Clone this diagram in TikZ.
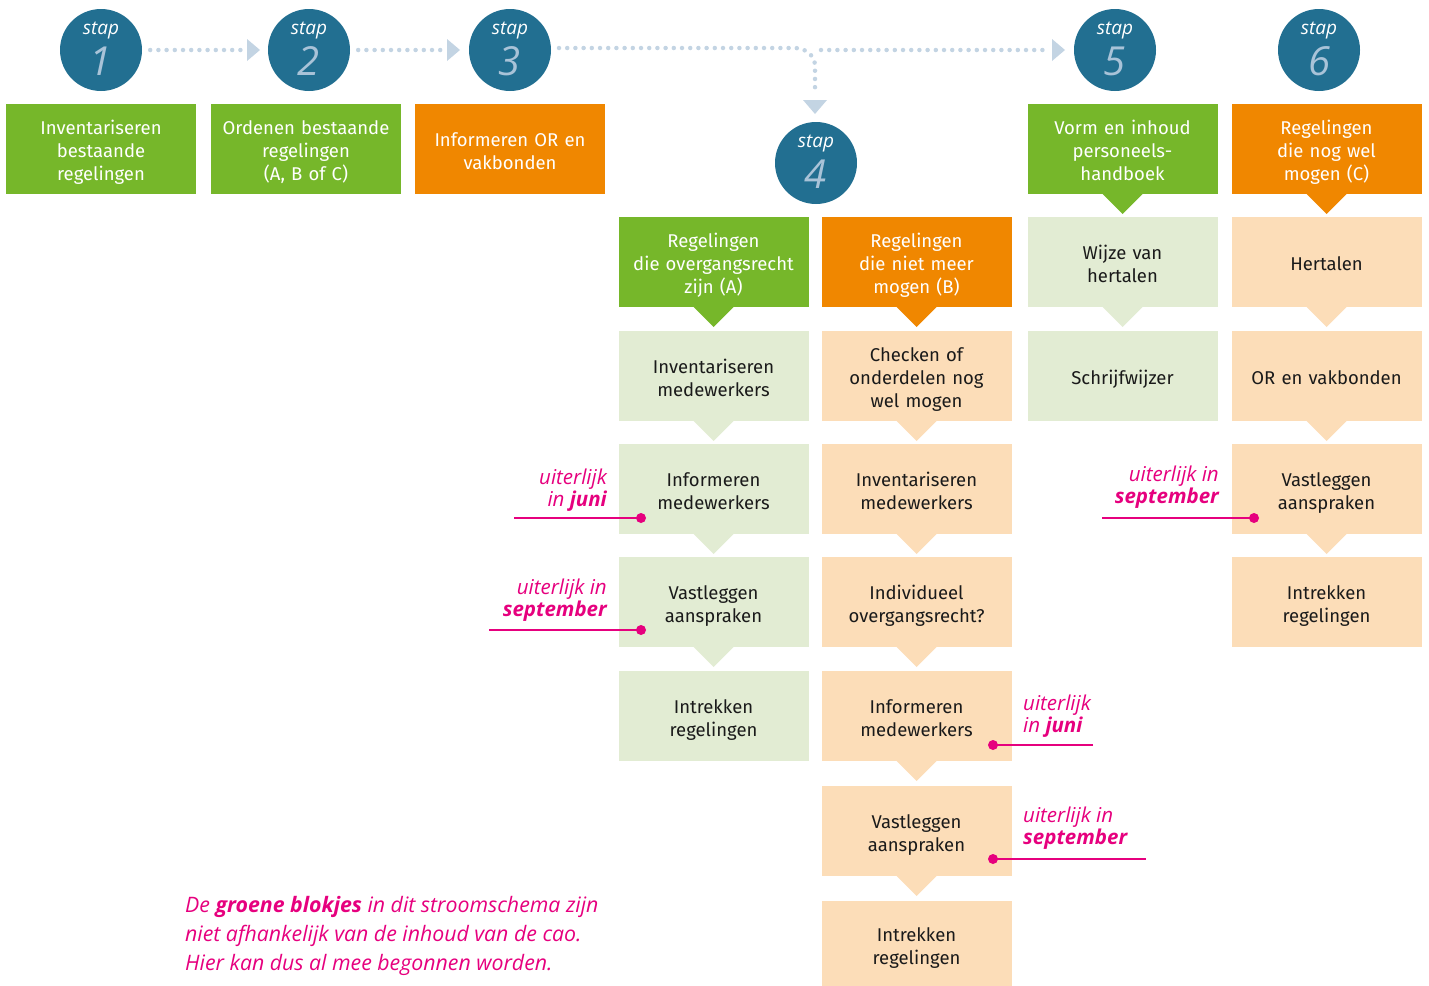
\documentclass[tikz,border=0pt]{standalone}
\usepackage{fontspec}
\setmainfont{Fira Sans}
\newfontfamily\hand{Open Sans}
\usetikzlibrary{calc}
\definecolor{cgreen}{HTML}{76B72A}
\definecolor{corange}{HTML}{F08700}
\definecolor{clgreen}{HTML}{E2ECD3}
\definecolor{clorange}{HTML}{FCDDB8}
\definecolor{cblue}{HTML}{226F91}
\definecolor{cnum}{HTML}{A9C3D8}
\definecolor{cdot}{HTML}{C3D4E3}
\definecolor{cpink}{HTML}{E6007E}
\definecolor{ctext}{HTML}{1A1A1A}
\begin{document}
\begin{tikzpicture}[x=1pt,y=-1pt,
  box/.style={minimum width=190pt, minimum height=90pt, inner sep=0pt, outer sep=0pt,
    align=center, text width=186pt, font=\fontsize{18.5}{23}\selectfont,
    execute at begin node={\rule{0pt}{26pt}},
    execute at end node={\rule[-9pt]{0pt}{0pt}}},
  gbox/.style={box, fill=cgreen, text=white},
  obox/.style={box, fill=corange, text=white},
  lgbox/.style={box, fill=clgreen, text=ctext},
  lobox/.style={box, fill=clorange, text=ctext},
  stepc/.style={circle, fill=cblue, minimum size=82pt, inner sep=0pt},
  staptxt/.style={font=\hand\itshape\fontsize{19}{19}\selectfont, text=white, inner sep=0pt},
  stepnum/.style={font=\hand\itshape\fontsize{40}{40}\selectfont, text=cnum, inner sep=0pt},
  dots/.style={draw=cdot, line width=4.5pt, line cap=round, dash pattern=on 0pt off 8.2pt},
  annot/.style={font=\hand\itshape\fontsize{20.5}{22.5}\selectfont, text=cpink, inner sep=0pt},
  pline/.style={draw=cpink, line width=1.3pt},
]
\useasboundingbox (0,0) rectangle (1429,985);

% ---------- step circles ----------
\foreach \n/\x/\y in {1/101/50, 2/309/50, 3/510/50, 4/816/163, 5/1115/50, 6/1319/50}{
  \node[stepc] (s\n) at (\x,\y) {};
  \node[staptxt] (s\n t) at (\x,\y-19) {stap};
  \node[stepnum] (s\n n) at (\x,\y+11) {\n};
}

% ---------- dotted arrows ----------
\coordinate (a12) at (247,50);
\coordinate (a23) at (447,50);
\coordinate (a35) at (1052,50);
\coordinate (a34) at (815,100);
\draw[dots] ([xshift=8pt]s1.east) -- ([xshift=-6pt]a12);
\draw[dots] ([xshift=8pt]s2.east) -- ([xshift=-6pt]a23);
\draw[dots] (559,48) -- (795,48) to[out=0,in=90] (815,66) -- (815,92);
\draw[dots] (821,50) -- ([xshift=-6pt]a35);
\foreach \c in {a12,a23,a35}{
  \fill[cdot] (\c) -- ++(0,-11) -- ++(13,11) -- ++(-13,11) -- cycle;
}
\fill[cdot] ($(a34)+(-12,0)$) -- ($(a34)+(0,14)$) -- ($(a34)+(12,0)$) -- cycle;

% ---------- top row ----------
\node[gbox] (t1) at (101,149) {Inventariseren\\bestaande\\regelingen};
\node[gbox] (t2) at (306,149) {Ordenen bestaande\\regelingen\\(A, B of C)};
\node[obox] (t3) at (510,149) {Informeren OR en\\vakbonden};
\node[gbox] (t5) at (1122.5,149) {Vorm en inhoud\\personeels-\\handboek};
\node[obox] (t6) at (1326.5,149) {Regelingen\\die nog wel\\mogen (C)};

% ---------- column A ----------
\node[gbox] (ha) at (713.5,262) {Regelingen\\die overgangsrecht\\zijn (A)};
\node[lgbox] (a1) at (713.5,376) {Inventariseren\\medewerkers};
\node[lgbox] (a2) at (713.5,489) {Informeren\\medewerkers};
\node[lgbox] (a3) at (713.5,602) {Vastleggen\\aanspraken};
\node[lgbox] (a4) at (713.5,716) {Intrekken\\regelingen};

% ---------- column B ----------
\node[obox] (hb) at (916.5,262) {Regelingen\\die niet meer\\mogen (B)};
\node[lobox] (b1) at (916.5,376) {Checken of\\onderdelen nog\\wel mogen};
\node[lobox] (b2) at (916.5,489) {Inventariseren\\medewerkers};
\node[lobox] (b3) at (916.5,602) {Individueel\\overgangsrecht?};
\node[lobox] (b4) at (916.5,716) {Informeren\\medewerkers};
\node[lobox] (b5) at (916.5,831) {Vastleggen\\aanspraken};
\node[lobox, minimum height=86pt] (b6) at (916.5,944) {Intrekken\\regelingen};

% ---------- column 5 ----------
\node[lgbox] (c1) at (1122.5,262) {Wijze van\\hertalen};
\node[lgbox] (c2) at (1122.5,376) {Schrijfwijzer};

% ---------- column 6 ----------
\node[lobox] (d1) at (1326.5,262) {Hertalen};
\node[lobox] (d2) at (1326.5,376) {OR en vakbonden};
\node[lobox] (d3) at (1326.5,489) {Vastleggen\\aanspraken};
\node[lobox] (d4) at (1326.5,602) {Intrekken\\regelingen};

% ---------- pointers ----------
\foreach \b/\c in {t5/cgreen, t6/corange, ha/cgreen, a1/clgreen, a2/clgreen, a3/clgreen,
  hb/corange, b1/clorange, b2/clorange, b3/clorange, b4/clorange, b5/clorange,
  c1/clgreen, d1/clorange, d2/clorange, d3/clorange}{
  \fill[\c] ([xshift=-20pt]\b.south) -- ([yshift=-20pt]\b.south) -- ([xshift=20pt]\b.south) -- cycle;
}

% ---------- pink annotations ----------
\node[annot, anchor=east, align=right] (n1) at (607,490) {uiterlijk\\in \textbf{juni}};
\coordinate (p1a) at (514,518); \coordinate (p1b) at (641,518);
\node[annot, anchor=east, align=right] (n2) at (607,600) {uiterlijk in\\\textbf{september}};
\coordinate (p2a) at (489,630); \coordinate (p2b) at (641,630);
\node[annot, anchor=west, align=left] (n3) at (1023,716) {uiterlijk\\in \textbf{juni}};
\coordinate (p3a) at (1093,745); \coordinate (p3b) at (993,745);
\node[annot, anchor=west, align=left] (n4) at (1023,828) {uiterlijk in\\\textbf{september}};
\coordinate (p4a) at (1146,859); \coordinate (p4b) at (993,859);
\node[annot, anchor=east, align=right] (n5) at (1219,487) {uiterlijk in\\\textbf{september}};
\coordinate (p5a) at (1102,518); \coordinate (p5b) at (1254,518);
\foreach \i in {1,...,5}{
  \draw[pline] (p\i a) -- (p\i b);
  \fill[cpink] (p\i b) circle (5pt);
}

% ---------- note ----------
\node[annot, anchor=north west, align=left, font=\hand\itshape\fontsize{21.3}{29}\selectfont] (note) at (185,896)
  {De \textbf{groene blokjes} in dit stroomschema zijn\\niet afhankelijk van de inhoud van de cao.\\Hier kan dus al mee begonnen worden.};
\end{tikzpicture}
\end{document}
